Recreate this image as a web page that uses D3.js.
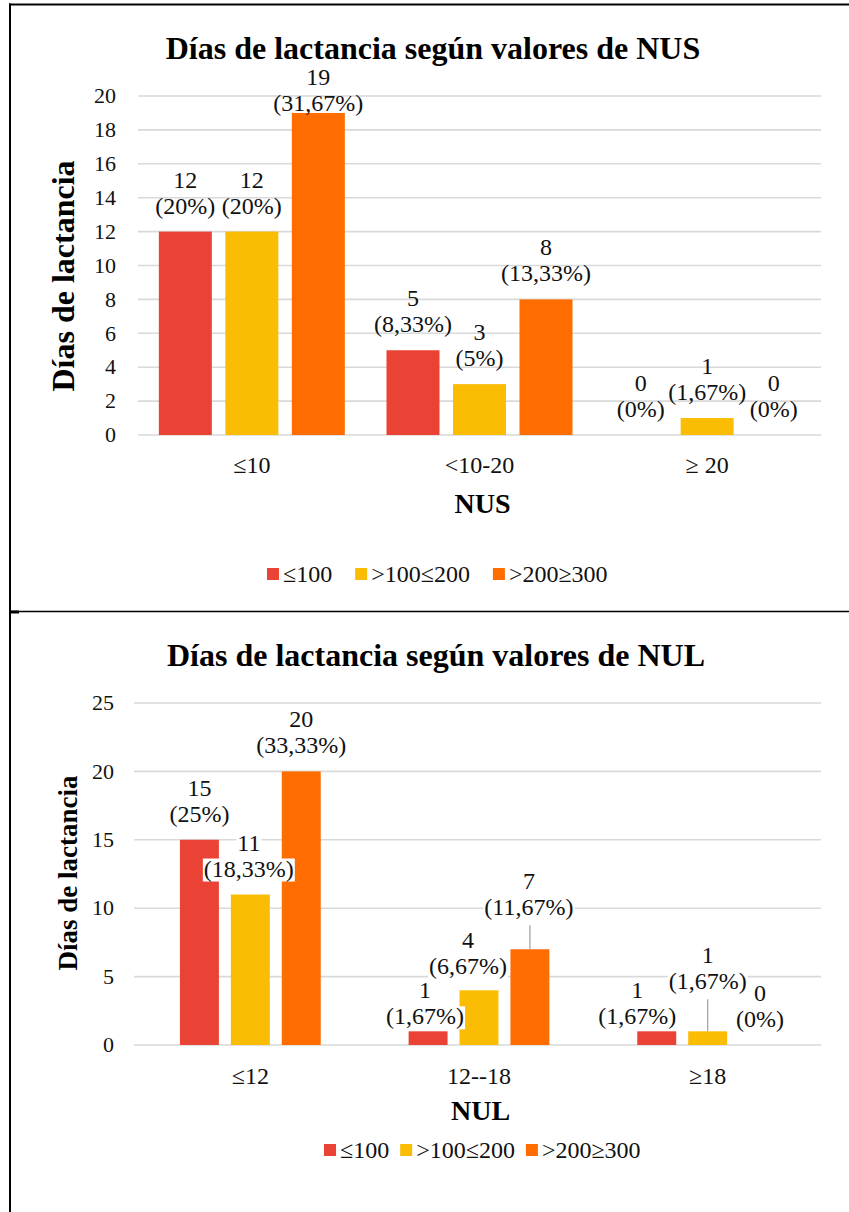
<!DOCTYPE html>
<html>
<head>
<meta charset="utf-8">
<script src="https://cdn.jsdelivr.net/npm/d3@7"></script>
<style>
  html, body { margin: 0; padding: 0; background: #fff; }
  svg { display: block; font-family: "Liberation Serif", "Times New Roman", serif; }
</style>
</head>
<body>
<svg id="page" width="849" height="1212"></svg>
<script>
// Series shared by both charts
const seriesNames = ["≤100", ">100≤200", ">200≥300"];
const seriesColors = ["#EA4335", "#FBBC04", "#FF6D01"];

// Chart 1: days of lactation by NUS range (values per series, per category)
const nusCategories = ["≤10", "<10-20", "≥ 20"];
const nusValues = [[12, 5, 0], [12, 3, 1], [19, 8, 0]];
const nusPercents = [[20, 8.33, 0], [20, 5, 1.67], [31.67, 13.33, 0]];
const nusTicks = [0, 2, 4, 6, 8, 10, 12, 14, 16, 18, 20];

// Chart 2: days of lactation by NUL range
const nulCategories = ["≤12", "12--18", "≥18"];
const nulValues = [[15, 1, 1], [11, 4, 1], [20, 7, 0]];
const nulPercents = [[25, 1.67, 1.67], [18.33, 6.67, 1.67], [33.33, 11.67, 0]];
const nulTicks = [0, 5, 10, 15, 20, 25];

// Hand-placed data labels: [dx, dy, leader line] per series, per category
const nusLabelNudges = [
  [[0, 0, false], [0, 0, false], [0, 0, false]],
  [[0, 0, false], [0, 0, false], [0, 0, false]],
  [[0, 16, false], [0, 0, false], [0, 0, false]]
];
const nulLabelNudges = [
  [[0, 0, false], [-3, 11, false], [-19.5, 11, false]],
  [[-1.5, 0, false], [-11, 2, false], [0, -24, true]],
  [[0, 0, false], [-1, -16, true], [1.5, 0, false]]
];

const fmtPct = p => String(p).replace(".", ",") + "%";

const svg = d3.select("#page");
svg.append("rect").attr("width", 849).attr("height", 1212).attr("fill", "#fff");

const charts = [
  {
    title: "Días de lactancia según valores de NUS", xTitle: "NUS", yTitle: "Días de lactancia",
    categories: nusCategories, values: nusValues, percents: nusPercents, ticks: nusTicks,
    plot: { left: 138, right: 821, top: 96, bottom: 435 }, bandRange: [138, 821],
    innerPad: 0.203, outerPad: 0.3135,
    titleX: 433, titleY: 59, titleSize: 32,
    tickRight: 116, tickSize: 22,
    yTitleX: 74, yTitleY: 276, yTitleSize: 32,
    catY: 473, catSize: 24, xTitleY: 513, xTitleSize: 28,
    legendX: 267, legendY: 574, legendGap: 23,
    labelFill: false, nudges: nusLabelNudges
  },
  {
    title: "Días de lactancia según valores de NUL", xTitle: "NUL", yTitle: "Días de lactancia",
    categories: nulCategories, values: nulValues, percents: nulPercents, ticks: nulTicks,
    plot: { left: 134, right: 821, top: 703, bottom: 1045 }, bandRange: [136, 822],
    innerPad: 0.235, outerPad: 0.863,
    titleX: 436, titleY: 666, titleSize: 32,
    tickRight: 114, tickSize: 22,
    yTitleX: 77, yTitleY: 873, yTitleSize: 27,
    catY: 1084, catSize: 24, xTitleY: 1120, xTitleSize: 28,
    legendX: 324, legendY: 1150, legendGap: 11,
    labelFill: true, nudges: nulLabelNudges
  }
];

charts.forEach(cfg => drawChart(svg.append("g"), cfg));

function drawChart(g, cfg) {
  const p = cfg.plot;
  const yMax = d3.max(cfg.ticks);
  const y = d3.scaleLinear().domain([0, yMax]).range([p.bottom, p.top]);
  const x0 = d3.scaleBand().domain(cfg.categories).range(cfg.bandRange).paddingInner(0).paddingOuter(0);
  const x1 = d3.scaleBand().domain(d3.range(seriesNames.length))
    .range([0, x0.bandwidth()]).paddingInner(cfg.innerPad).paddingOuter(cfg.outerPad);

  // Title
  g.append("text").attr("x", cfg.titleX).attr("y", cfg.titleY)
    .attr("text-anchor", "middle").attr("font-weight", "bold")
    .attr("font-size", cfg.titleSize).text(cfg.title);

  // Gridlines
  g.append("g").selectAll("line").data(cfg.ticks).join("line")
    .attr("x1", p.left).attr("x2", p.right)
    .attr("y1", d => y(d)).attr("y2", d => y(d))
    .attr("stroke", "#d9d9d9").attr("stroke-width", 1.6);

  // Y tick labels
  g.append("g").selectAll("text").data(cfg.ticks).join("text")
    .attr("x", cfg.tickRight).attr("y", d => y(d) + cfg.tickSize * 0.33)
    .attr("text-anchor", "end").attr("font-size", cfg.tickSize).attr("fill", "#111")
    .text(d => d);

  // Y axis title
  g.append("text")
    .attr("transform", `translate(${cfg.yTitleX},${cfg.yTitleY}) rotate(-90)`)
    .attr("text-anchor", "middle").attr("font-weight", "bold")
    .attr("font-size", cfg.yTitleSize).text(cfg.yTitle);

  // Category labels
  g.append("g").selectAll("text").data(cfg.categories).join("text")
    .attr("x", d => x0(d) + x0.bandwidth() / 2).attr("y", cfg.catY)
    .attr("text-anchor", "middle").attr("font-size", cfg.catSize).attr("fill", "#111")
    .text(d => d);

  // X axis title
  g.append("text").attr("x", (p.left + p.right) / 2 + 3).attr("y", cfg.xTitleY)
    .attr("text-anchor", "middle").attr("font-weight", "bold")
    .attr("font-size", cfg.xTitleSize).text(cfg.xTitle);

  // Bars
  const items = [];
  cfg.values.forEach((vals, s) => {
    vals.forEach((v, c) => {
      const cat = cfg.categories[c];
      const nudge = cfg.nudges[s][c];
      items.push({
        s, c, v, pct: cfg.percents[s][c],
        x: x0(cat) + x1(s), w: x1.bandwidth(),
        dx: nudge[0], dy: nudge[1], leader: nudge[2]
      });
    });
  });

  g.append("g").selectAll("rect").data(items).join("rect")
    .attr("x", d => d.x).attr("width", d => d.w)
    .attr("y", d => y(d.v)).attr("height", d => y(0) - y(d.v))
    .attr("fill", d => seriesColors[d.s]);

  // Leader lines for moved labels
  g.append("g").selectAll("line").data(items.filter(d => d.leader)).join("line")
    .attr("x1", d => d.x + d.w / 2).attr("x2", d => d.x + d.w / 2)
    .attr("y1", d => y(d.v) - 18 + d.dy + 10).attr("y2", d => y(d.v))
    .attr("stroke", "#a6a6a6").attr("stroke-width", 1.3);

  // Data labels: value and percentage on two lines
  const labels = g.append("g").selectAll("g").data(items).join("g");
  labels.each(function (d) {
    const lg = d3.select(this);
    const cx = d.x + d.w / 2 + d.dx;
    const base2 = y(d.v) - 18 + d.dy;
    const lines = [[String(d.v), base2 - 26], ["(" + fmtPct(d.pct) + ")", base2]];
    lines.forEach(([txt, by]) => {
      const bg = cfg.labelFill ? lg.append("rect").attr("fill", "#fff") : null;
      const t = lg.append("text").attr("x", cx).attr("y", by)
        .attr("text-anchor", "middle").attr("font-size", 24).attr("fill", "#111").text(txt);
      if (bg) {
        const w = t.node().getComputedTextLength();
        bg.attr("x", cx - w / 2 - 1).attr("width", w + 2)
          .attr("y", by - 18).attr("height", 23);
      }
    });
  });

  // Legend
  const lgd = g.append("g");
  let lx = cfg.legendX;
  seriesNames.forEach((name, i) => {
    lgd.append("rect").attr("x", lx).attr("y", cfg.legendY - 6)
      .attr("width", 12).attr("height", 12).attr("fill", seriesColors[i]);
    const t = lgd.append("text").attr("x", lx + 16).attr("y", cfg.legendY + 8)
      .attr("font-size", 24).attr("fill", "#111").text(name);
    lx += 16 + t.node().getComputedTextLength() + cfg.legendGap;
  });
}

// Frame lines around the two cells
const frame = svg.append("g").attr("stroke", "#000");
frame.append("line").attr("x1", 9).attr("x2", 849).attr("y1", 4.5).attr("y2", 4.5).attr("stroke-width", 2);
frame.append("line").attr("x1", 10).attr("x2", 10).attr("y1", 3.5).attr("y2", 1212).attr("stroke-width", 2);
frame.append("line").attr("x1", 10).attr("x2", 849).attr("y1", 611.5).attr("y2", 611.5).attr("stroke-width", 1.5);
svg.append("rect").attr("x", 10).attr("y", 610.5).attr("width", 9).attr("height", 3).attr("fill", "#000");
</script>
</body>
</html>
